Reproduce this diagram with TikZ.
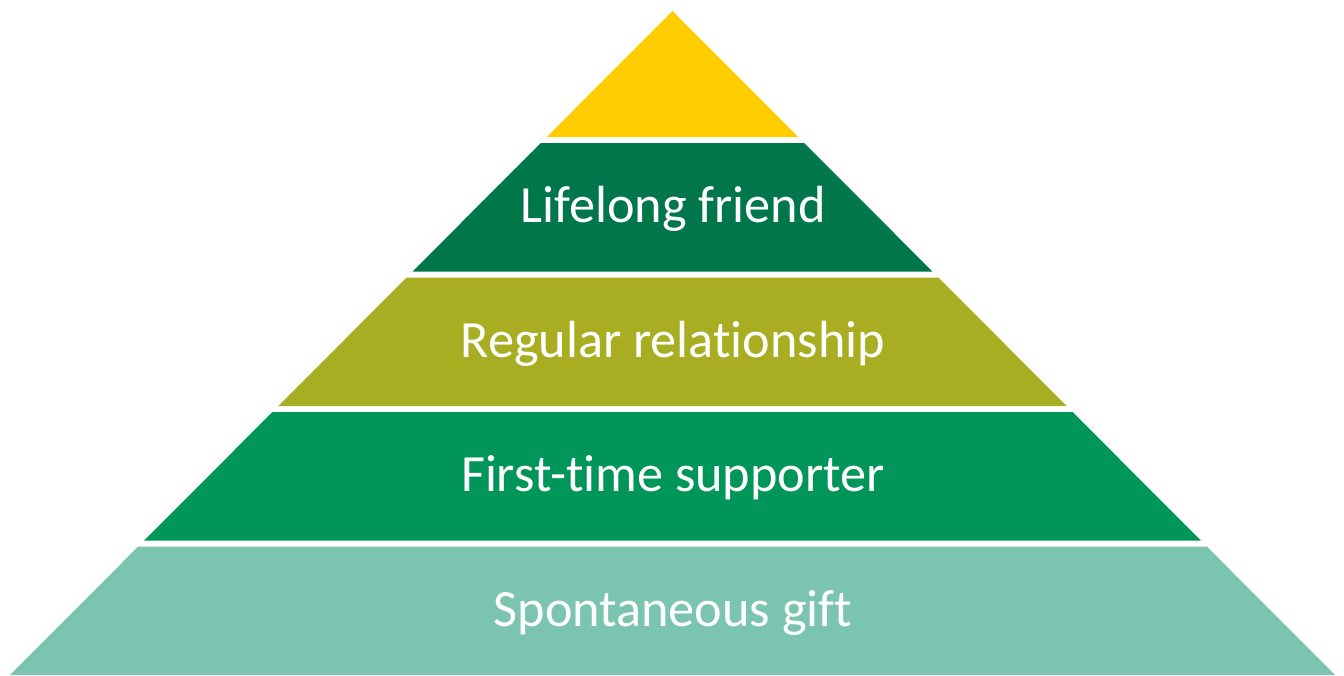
\documentclass[tikz,border=0pt]{standalone}
\usepackage{fontspec}
\setmainfont[Ligatures=CommonOff]{Carlito}
\definecolor{tierGold}{HTML}{FFCC00}
\definecolor{tierForest}{HTML}{00774A}
\definecolor{tierOlive}{HTML}{A9AD21}
\definecolor{tierGreen}{HTML}{00965A}
\definecolor{tierTeal}{HTML}{7BC4B0}
\begin{document}
\begin{tikzpicture}[x=0.75pt,y=-0.75pt,
  tierlabel/.style={text=white,anchor=base,inner sep=0pt,
    font=\fontsize{39.2}{47}\selectfont}]
\useasboundingbox (0,0) rectangle (1344,675);
% pyramid tiers, bottom to top
\fill[tierTeal]   (10,675) -- (1335,675) -- (1206.8,546.5) -- (138.2,546.5) -- cycle;
\fill[tierGreen]  (144.2,540.5) -- (1200.8,540.5) -- (1072.6,412) -- (272.4,412) -- cycle;
\fill[tierOlive]  (278.4,406) -- (1066.6,406) -- (938.4,277.5) -- (406.6,277.5) -- cycle;
\fill[tierForest] (412.6,271.5) -- (932.4,271.5) -- (804.2,143) -- (540.8,143) -- cycle;
\fill[tierGold]   (546.8,137) -- (798.2,137) -- (672.5,11) -- cycle;
% tier labels
\node[tierlabel] (lifelong)    at (673,222.5)   {Lifelong friend};
\node[tierlabel] (regular)     at (673,357.4) {Regular relationship};
\node[tierlabel] (firsttime)   at (673,491.8) {First-time supporter};
\node[tierlabel] (spontaneous) at (673,626) {Spontaneous gift};
\end{tikzpicture}
\end{document}
